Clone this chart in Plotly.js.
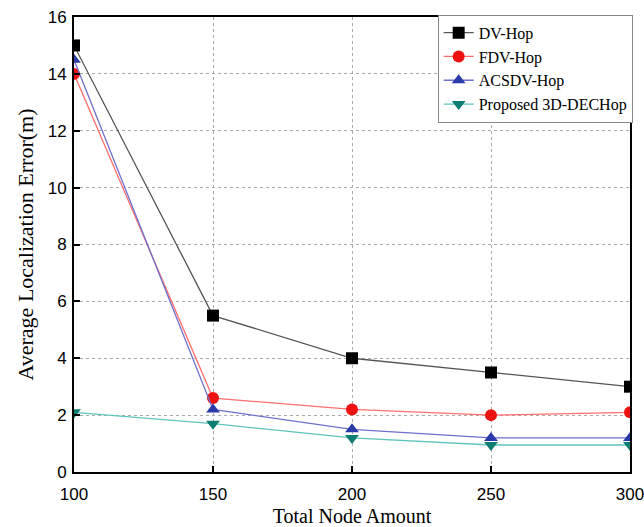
<!DOCTYPE html>
<html><head><meta charset="utf-8">
<script src="https://cdn.plot.ly/plotly-3.0.1.min.js"></script>
<style>body{margin:0;background:#fff}#c{width:644px;height:527px}</style>
</head><body><div id="c"></div>
<script>
const nodes = [100, 150, 200, 250, 300];
const dvHop = [15, 5.5, 4, 3.5, 3];
const fdvHop = [14, 2.6, 2.2, 2.0, 2.1];
const acsdvHop = [14.5, 2.2, 1.5, 1.2, 1.2];
const proposed = [2.1, 1.7, 1.2, 0.95, 0.95];
const names = ['DV-Hop', 'FDV-Hop', 'ACSDV-Hop', 'Proposed 3D-DECHop'];

function tr(y, name, lc, mc, sym) {
  return {x: nodes, y: y, name: name, type: 'scatter', mode: 'lines+markers', cliponaxis: true,
    line: {color: lc, width: 1.3}, marker: {color: mc, symbol: sym, size: 12}};
}
const data = [
  tr(dvHop, names[0], '#555555', '#000000', 'square'),
  tr(fdvHop, names[1], '#ff6f6f', '#ee1111', 'circle'),
  tr(acsdvHop, names[2], '#6f6fcc', '#2a3aa8', 'triangle-up'),
  tr(proposed, names[3], '#5fc4bb', '#0e7d72', 'triangle-down')
];
const serif = 'Liberation Serif, Times New Roman, serif';
const axBase = {showline: true, linecolor: '#000', linewidth: 2, mirror: true,
  ticks: 'inside', ticklen: 6, tickcolor: '#000', tickwidth: 2,
  showgrid: true, gridcolor: '#aaaaaa', griddash: 'dot', gridwidth: 1, zeroline: false,
  ticklabeloverflow: 'allow',
  tickfont: {family: 'Liberation Sans, Arial', size: 17, color: '#000'}};
const layout = {
  width: 644, height: 527, paper_bgcolor: '#fff', plot_bgcolor: '#fff',
  margin: {l: 74, r: 13, t: 17, b: 55},
  showlegend: true,
  legend: {x: 1.003, xanchor: 'right', y: 1.005, yanchor: 'top', bgcolor: '#fff', bordercolor: '#888', borderwidth: 1,
    font: {family: serif, size: 16, color: '#000'}, tracegroupgap: 0, itemwidth: 30},
  xaxis: Object.assign({}, axBase, {range: [100, 300], tickvals: nodes, ticktext: nodes.map(String),
    ticklabelstandoff: 6,
    title: {text: 'Total Node Amount', standoff: 6, font: {family: serif, size: 20, color: '#000'}}}),
  yaxis: Object.assign({}, axBase, {range: [0, 16], dtick: 2, ticklabelstandoff: 2,
    title: {text: 'Average Localization Error(m)', standoff: 8, font: {family: serif, size: 22, color: '#000'}}})
};
Plotly.newPlot('c', data, layout, {displayModeBar: false});
</script></body></html>
